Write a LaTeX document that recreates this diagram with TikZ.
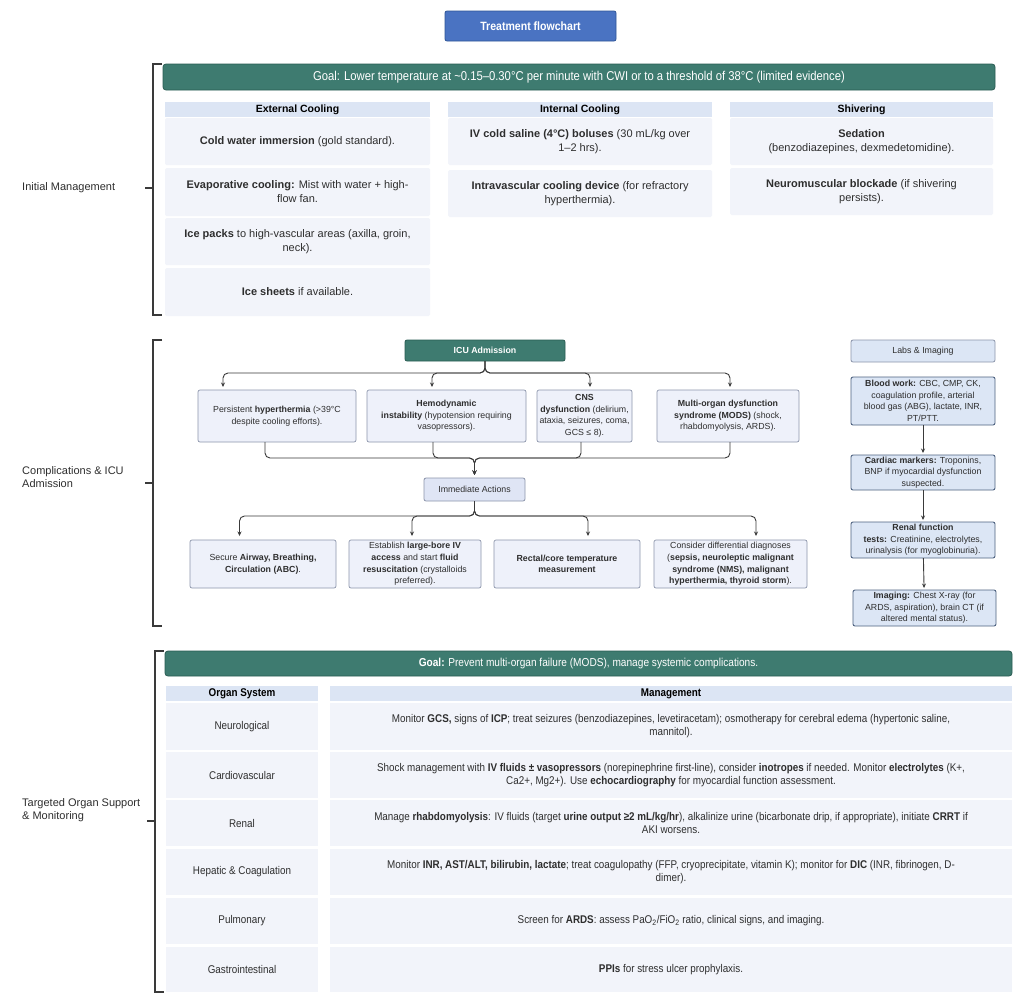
\documentclass[tikz,border=0pt]{standalone}
\usepackage{fontspec}
\setmainfont{Liberation Sans}
\newfontfamily\condfont[FakeStretch=0.88]{Liberation Sans}
\usetikzlibrary{arrows.meta,calc}
\definecolor{titleblue}{HTML}{4A73C2}
\definecolor{titleborder}{HTML}{2E5597}
\definecolor{tealbar}{HTML}{3E7B70}
\definecolor{tealborder}{HTML}{2A5C53}
\definecolor{hdrblue}{HTML}{DCE5F4}
\definecolor{cellfill}{HTML}{F2F4FA}
\definecolor{icufill}{HTML}{EEF1FA}
\definecolor{icuborder}{HTML}{8C95AB}
\definecolor{iafill}{HTML}{DFE5F5}
\definecolor{labfill}{HTML}{DCE6F5}
\definecolor{labborder}{HTML}{4E6280}
\definecolor{txt}{HTML}{2E2E2E}
\definecolor{lineclr}{HTML}{3A3A3A}
\newcommand{\fcell}{\fontsize{11}{14}\selectfont}
\newcommand{\fhdr}{\fontsize{10.5}{12}\selectfont\bfseries}
\newcommand{\fsml}{\fontsize{8.8}{11.6}\selectfont}
\newcommand{\ftab}{\condfont\fontsize{11.2}{13}\selectfont}
\newcommand{\fgoalA}{\condfont\fontsize{12.8}{15}\selectfont}
\newcommand{\fgoalB}{\condfont\fontsize{11.5}{14}\selectfont}
\tikzset{
  base/.style={anchor=north west, inner sep=0pt, outer sep=0pt, align=center, text=txt},
  cell/.style={base, fill=cellfill, rounded corners=1.5pt, font=\fcell},
  hdr/.style={base, fill=hdrblue, font=\fhdr, text=black},
  goalbar/.style={base, fill=tealbar, draw=tealborder, line width=0.8pt, rounded corners=3pt, text=white},
  icubox/.style={base, fill=icufill, draw=icuborder, line width=0.7pt, rounded corners=2pt, font=\fsml},
  iabox/.style={base, fill=iafill, draw=icuborder, line width=0.8pt, rounded corners=2pt, font=\fsml},
  labbox/.style={base, fill=labfill, draw=labborder, line width=0.9pt, rounded corners=2pt, font=\fsml},
  tcell/.style={base, fill=cellfill, font=\ftab},
  thdr/.style={base, fill=hdrblue, font=\ftab\bfseries, text=black},
  conn/.style={draw=lineclr, line width=0.9pt, -{Stealth[length=4.5pt,width=4pt]}, rounded corners=5pt},
  bracket/.style={draw=lineclr, line width=1.1pt},
  seclabel/.style={anchor=west, inner sep=0pt, align=left, text=txt, font=\fontsize{11}{13.5}\selectfont}
}
\begin{document}
\begin{tikzpicture}[x=1pt,y=-1pt]
\useasboundingbox (0,0) rectangle (1024,1004);
\fill[white] (0,0) rectangle (1024,1004);

% title
\node[base, minimum width=171, minimum height=30, fill=titleblue, draw=titleborder, line width=0.8pt, rounded corners=2pt, text=white, font=\condfont\fontsize{12}{14}\selectfont\bfseries] (title) at (445,11) {Treatment flowchart};

% ---------- Section 1 ----------
\draw[bracket] (162,64) -- (153,64) -- (153,315) -- (162,315);
\draw[bracket] (145,188) -- (153,188);
\node[seclabel] (l1) at (22,188) {Initial Management};

\node[goalbar, font=\fgoalA, minimum width=832, minimum height=26] (goal1) at (163,64) {Goal: Lower temperature at \textasciitilde0.15–0.30°C per minute with CWI or to a threshold of 38°C (limited evidence)};

\node[hdr, minimum width=265, minimum height=15] (h1) at (165,102) {External Cooling};
\node[hdr, minimum width=264, minimum height=15] (h2) at (448,102) {Internal Cooling};
\node[hdr, minimum width=263, minimum height=15] (h3) at (730,102) {Shivering};

\node[cell, minimum width=265, minimum height=47] (ec1) at (165,118) {\textbf{Cold water immersion} (gold standard).};
\node[cell, minimum width=265, minimum height=48] (ec2) at (165,168) {\textbf{Evaporative cooling:} Mist with water + high-\\flow fan.};
\node[cell, minimum width=265, minimum height=47] (ec3) at (165,218) {\textbf{Ice packs} to high-vascular areas (axilla, groin,\\neck).};
\node[cell, minimum width=265, minimum height=48] (ec4) at (165,268) {\textbf{Ice sheets} if available.};

\node[cell, minimum width=264, minimum height=47] (ic1) at (448,118) {\textbf{IV cold saline (4°C) boluses} (30 mL/kg over\\1–2 hrs).};
\node[cell, minimum width=264, minimum height=47] (ic2) at (448,170) {\textbf{Intravascular cooling device} (for refractory\\hyperthermia).};

\node[cell, minimum width=263, minimum height=47] (sh1) at (730,118) {\textbf{Sedation}\\(benzodiazepines, dexmedetomidine).};
\node[cell, minimum width=263, minimum height=47] (sh2) at (730,168) {\textbf{Neuromuscular blockade} (if shivering\\persists).};

% ---------- Section 2 ----------
\draw[bracket] (162,340) -- (153,340) -- (153,626) -- (162,626);
\draw[bracket] (145,483) -- (153,483);
\node[seclabel] (l2) at (22,477) {Complications \& ICU\\Admission};

\node[base, minimum width=160, minimum height=21, fill=tealbar, draw=tealborder, line width=0.8pt, rounded corners=2pt, text=white, font=\fsml\bfseries] (icu) at (405,340) {ICU Admission};

\node[icubox, minimum width=158, minimum height=52] (pa) at (198,390) {Persistent \textbf{hyperthermia} (>39°C\\despite cooling efforts).};
\node[icubox, minimum width=159, minimum height=52] (pb) at (367,390) {\textbf{Hemodynamic}\\\textbf{instability} (hypotension requiring\\vasopressors).};
\node[icubox, minimum width=95, minimum height=52] (pc) at (537,390) {\textbf{CNS}\\\textbf{dysfunction} (delirium,\\ataxia, seizures, coma,\\GCS ≤ 8).};
\node[icubox, minimum width=142, minimum height=52] (pd) at (657,390) {\textbf{Multi-organ dysfunction}\\\textbf{syndrome (MODS)} (shock,\\rhabdomyolysis, ARDS).};

\node[iabox, minimum width=101, minimum height=23] (ia) at (424,478) {Immediate Actions};

\node[icubox, minimum width=146, minimum height=48] (ea) at (190,540) {Secure \textbf{Airway, Breathing,}\\\textbf{Circulation (ABC)}.};
\node[icubox, minimum width=132, minimum height=48] (eb) at (349,540) {Establish \textbf{large-bore IV}\\\textbf{access} and start \textbf{fluid}\\\textbf{resuscitation} (crystalloids\\preferred).};
\node[icubox, minimum width=146, minimum height=48] (ec) at (494,540) {\textbf{Rectal/core temperature}\\\textbf{measurement}};
\node[icubox, minimum width=153, minimum height=48] (ed) at (654,540) {Consider differential diagnoses\\(\textbf{sepsis, neuroleptic malignant}\\\textbf{syndrome (NMS), malignant}\\\textbf{hyperthermia, thyroid storm}).};

% ICU -> complications
\draw[conn] (icu.south) |- ($(pa.north)+(-54,-17)$) -- ($(pa.north)+(-54,-3)$);
\draw[conn] (icu.south) |- ($(pb.north)+(-14.5,-17)$) -- ($(pb.north)+(-14.5,-3)$);
\draw[conn] (icu.south) |- ($(pc.north)+(5.5,-17)$) -- ($(pc.north)+(5.5,-3)$);
\draw[conn] (icu.south) |- ($(pd.north)+(2,-17)$) -- ($(pd.north)+(2,-3)$);
% complications -> immediate actions
\draw[conn] ($(pa.south)+(-12,0)$) |- ($(ia.north)+(0,-20)$) -- ($(ia.north)+(0,-3)$);
\draw[conn] ($(pb.south)+(-13.5,0)$) |- ($(ia.north)+(0,-20)$) -- ($(ia.north)+(0,-3)$);
\draw[conn] ($(pc.south)+(-3.5,0)$) |- ($(ia.north)+(0,-20)$) -- ($(ia.north)+(0,-3)$);
\draw[conn] ($(pd.south)+(2,0)$) |- ($(ia.north)+(0,-20)$) -- ($(ia.north)+(0,-3)$);
% immediate actions -> actions
\draw[conn] (ia.south) |- ($(ea.north)+(-23.5,-24)$) -- ($(ea.north)+(-23.5,-4)$);
\draw[conn] (ia.south) |- ($(eb.north)+(-3,-24)$) -- ($(eb.north)+(-3,-4)$);
\draw[conn] (ia.south) |- ($(ec.north)+(21,-24)$) -- ($(ec.north)+(21,-4)$);
\draw[conn] (ia.south) |- ($(ed.north)+(25.5,-24)$) -- ($(ed.north)+(25.5,-4)$);

% Labs column
\node[labbox, minimum width=144, minimum height=22, draw=icuborder, line width=0.8pt] (labs) at (851,340) {Labs \& Imaging};
\node[labbox, minimum width=144, minimum height=48] (lb1) at (851,377) {\textbf{Blood work:} CBC, CMP, CK,\\coagulation profile, arterial\\blood gas (ABG), lactate, INR,\\PT/PTT.};
\node[labbox, minimum width=144, minimum height=35] (lb2) at (851,455) {\textbf{Cardiac markers:} Troponins,\\BNP if myocardial dysfunction\\suspected.};
\node[labbox, minimum width=144, minimum height=36] (lb3) at (851,522) {\textbf{Renal function}\\\textbf{tests:} Creatinine, electrolytes,\\urinalysis (for myoglobinuria).};
\node[labbox, minimum width=143, minimum height=36] (lb4) at (853,590) {\textbf{Imaging:} Chest X-ray (for\\ARDS, aspiration), brain CT (if\\altered mental status).};
\draw[conn, shorten >=2pt] (lb1) -- (lb2);
\draw[conn, shorten >=2pt] (lb2) -- (lb3);
\draw[conn, shorten >=2pt] (lb3) -- (lb4);

% ---------- Section 3 ----------
\draw[bracket] (164,651) -- (155,651) -- (155,992) -- (164,992);
\draw[bracket] (147,821) -- (155,821);
\node[seclabel] (l3) at (22,810) {Targeted Organ Support\\\& Monitoring};

\node[goalbar, font=\fgoalB, minimum width=847, minimum height=25] (goal2) at (165,651) {\textbf{Goal:} Prevent multi-organ failure (MODS), manage systemic complications.};

\node[thdr, minimum width=152, minimum height=15] (th1) at (166,686) {Organ System};
\node[thdr, minimum width=682, minimum height=15] (th2) at (330,686) {Management};

\node[tcell, minimum width=152, minimum height=47] (r1l) at (166,703) {Neurological};
\node[tcell, minimum width=682, minimum height=47] (r1r) at (330,703) {Monitor \textbf{GCS,} signs of \textbf{ICP}; treat seizures (benzodiazepines, levetiracetam); osmotherapy for cerebral edema (hypertonic saline,\\mannitol).};
\node[tcell, minimum width=152, minimum height=46] (r2l) at (166,752) {Cardiovascular};
\node[tcell, minimum width=682, minimum height=46] (r2r) at (330,752) {Shock management with \textbf{IV fluids ± vasopressors} (norepinephrine first-line), consider \textbf{inotropes} if needed. Monitor \textbf{electrolytes} (K+,\\Ca2+, Mg2+). Use \textbf{echocardiography} for myocardial function assessment.};
\node[tcell, minimum width=152, minimum height=46] (r3l) at (166,800) {Renal};
\node[tcell, minimum width=682, minimum height=46] (r3r) at (330,800) {Manage \textbf{rhabdomyolysis}: IV fluids (target \textbf{urine output ≥2 mL/kg/hr}), alkalinize urine (bicarbonate drip, if appropriate), initiate \textbf{CRRT} if\\AKI worsens.};
\node[tcell, minimum width=152, minimum height=46] (r4l) at (166,849) {Hepatic \& Coagulation};
\node[tcell, minimum width=682, minimum height=46] (r4r) at (330,849) {Monitor \textbf{INR, AST/ALT, bilirubin, lactate}; treat coagulopathy (FFP, cryoprecipitate, vitamin K); monitor for \textbf{DIC} (INR, fibrinogen, D-\\dimer).};
\node[tcell, minimum width=152, minimum height=46] (r5l) at (166,898) {Pulmonary};
\node[tcell, minimum width=682, minimum height=46] (r5r) at (330,898) {Screen for \textbf{ARDS}: assess PaO\textsubscript{2}/FiO\textsubscript{2} ratio, clinical signs, and imaging.};
\node[tcell, minimum width=152, minimum height=45] (r6l) at (166,947) {Gastrointestinal};
\node[tcell, minimum width=682, minimum height=45] (r6r) at (330,947) {\textbf{PPIs} for stress ulcer prophylaxis.};
\end{tikzpicture}
\end{document}
